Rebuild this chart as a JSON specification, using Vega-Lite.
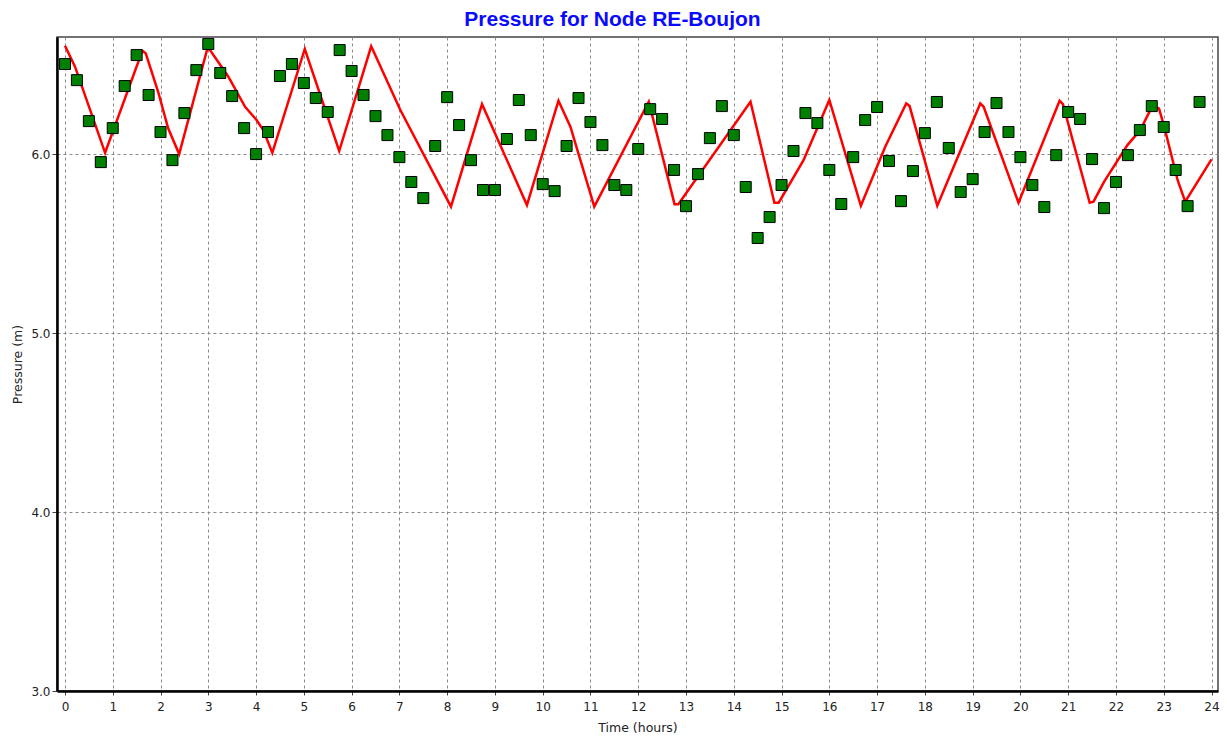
{
  "$schema": "https://vega.github.io/schema/vega-lite/v6.json",
  "autosize": {"type": "none"},
  "padding": {"left": 57, "top": 37, "right": 9, "bottom": 49},
  "width": 1161,
  "height": 654,
  "background": "white",
  "config": {
    "view": {"stroke": "#444444", "strokeWidth": 1.5},
    "axis": {
      "labelFont": "DejaVu Sans",
      "labelFontSize": 12,
      "labelColor": "#222222",
      "titleFont": "DejaVu Sans",
      "titleFontSize": 12.5,
      "titleFontWeight": "normal",
      "titleColor": "#222222",
      "grid": true,
      "gridColor": "#8a8a8a",
      "gridDash": [3, 3],
      "gridWidth": 1,
      "domainColor": "#000000",
      "domainWidth": 2.5,
      "tickColor": "#444444",
      "tickWidth": 1
    }
  },
  "title": {
    "text": "Pressure for Node RE-Boujon",
    "font": "Liberation Sans",
    "fontSize": 21,
    "fontWeight": "bold",
    "color": "#0a0aff",
    "anchor": "middle",
    "frame": "group",
    "dx": -25,
    "baseline": "alphabetic",
    "offset": -10
  },
  "datasets": {
    "sim": [
      {"h": 0, "p": 6.605}, {"h": 0.21, "p": 6.488}, {"h": 0.84, "p": 6.007},
      {"h": 1.62, "p": 6.577}, {"h": 1.69, "p": 6.563}, {"h": 1.95, "p": 6.348},
      {"h": 2.16, "p": 6.144}, {"h": 2.39, "p": 6.0}, {"h": 2.99, "p": 6.599},
      {"h": 3.42, "p": 6.432}, {"h": 3.77, "p": 6.264}, {"h": 4.01, "p": 6.19},
      {"h": 4.15, "p": 6.134}, {"h": 4.34, "p": 6.007}, {"h": 5.02, "p": 6.587},
      {"h": 5.74, "p": 6.017}, {"h": 6.41, "p": 6.602}, {"h": 7.02, "p": 6.246},
      {"h": 8.08, "p": 5.706}, {"h": 8.73, "p": 6.279}, {"h": 9.67, "p": 5.715},
      {"h": 10.33, "p": 6.298}, {"h": 10.58, "p": 6.153}, {"h": 11.08, "p": 5.706},
      {"h": 12.22, "p": 6.292}, {"h": 12.76, "p": 5.72}, {"h": 12.84, "p": 5.72},
      {"h": 14.35, "p": 6.292}, {"h": 14.85, "p": 5.728}, {"h": 14.94, "p": 5.728},
      {"h": 15.46, "p": 5.966}, {"h": 16.0, "p": 6.302}, {"h": 16.66, "p": 5.711},
      {"h": 17.17, "p": 6.041}, {"h": 17.61, "p": 6.283}, {"h": 17.68, "p": 6.268},
      {"h": 18.26, "p": 5.711}, {"h": 19.16, "p": 6.283}, {"h": 19.23, "p": 6.264},
      {"h": 19.96, "p": 5.728}, {"h": 20.82, "p": 6.298}, {"h": 20.89, "p": 6.279},
      {"h": 21.45, "p": 5.728}, {"h": 21.53, "p": 5.734}, {"h": 21.75, "p": 5.845},
      {"h": 22.24, "p": 6.05}, {"h": 22.51, "p": 6.134}, {"h": 22.76, "p": 6.268},
      {"h": 22.9, "p": 6.255}, {"h": 23.01, "p": 6.153}, {"h": 23.29, "p": 5.855},
      {"h": 23.45, "p": 5.734}, {"h": 24.0, "p": 5.97}
    ],
    "obs": [
      {"h": 0, "p": 6.503}, {"h": 0.25, "p": 6.413}, {"h": 0.5, "p": 6.184}, {"h": 0.75, "p": 5.955},
      {"h": 1, "p": 6.145}, {"h": 1.25, "p": 6.38}, {"h": 1.5, "p": 6.553}, {"h": 1.75, "p": 6.33},
      {"h": 2, "p": 6.123}, {"h": 2.25, "p": 5.966}, {"h": 2.5, "p": 6.229}, {"h": 2.75, "p": 6.469},
      {"h": 3, "p": 6.615}, {"h": 3.25, "p": 6.453}, {"h": 3.5, "p": 6.324}, {"h": 3.75, "p": 6.145},
      {"h": 4, "p": 6.0}, {"h": 4.25, "p": 6.123}, {"h": 4.5, "p": 6.436}, {"h": 4.75, "p": 6.503},
      {"h": 5, "p": 6.397}, {"h": 5.25, "p": 6.313}, {"h": 5.5, "p": 6.235}, {"h": 5.75, "p": 6.581},
      {"h": 6, "p": 6.464}, {"h": 6.25, "p": 6.33}, {"h": 6.5, "p": 6.212}, {"h": 6.75, "p": 6.106},
      {"h": 7, "p": 5.983}, {"h": 7.25, "p": 5.844}, {"h": 7.5, "p": 5.754}, {"h": 7.75, "p": 6.045},
      {"h": 8, "p": 6.318}, {"h": 8.25, "p": 6.162}, {"h": 8.5, "p": 5.966}, {"h": 8.75, "p": 5.799},
      {"h": 9, "p": 5.799}, {"h": 9.25, "p": 6.084}, {"h": 9.5, "p": 6.302}, {"h": 9.75, "p": 6.106},
      {"h": 10, "p": 5.832}, {"h": 10.25, "p": 5.793}, {"h": 10.5, "p": 6.045}, {"h": 10.75, "p": 6.313},
      {"h": 11, "p": 6.179}, {"h": 11.25, "p": 6.05}, {"h": 11.5, "p": 5.827}, {"h": 11.75, "p": 5.799},
      {"h": 12, "p": 6.028}, {"h": 12.25, "p": 6.251}, {"h": 12.5, "p": 6.196}, {"h": 12.75, "p": 5.911},
      {"h": 13, "p": 5.709}, {"h": 13.25, "p": 5.888}, {"h": 13.5, "p": 6.089}, {"h": 13.75, "p": 6.268},
      {"h": 14, "p": 6.106}, {"h": 14.25, "p": 5.816}, {"h": 14.5, "p": 5.531}, {"h": 14.75, "p": 5.648},
      {"h": 15, "p": 5.827}, {"h": 15.25, "p": 6.017}, {"h": 15.5, "p": 6.229}, {"h": 15.75, "p": 6.173},
      {"h": 16, "p": 5.911}, {"h": 16.25, "p": 5.721}, {"h": 16.5, "p": 5.983}, {"h": 16.75, "p": 6.19},
      {"h": 17, "p": 6.263}, {"h": 17.25, "p": 5.961}, {"h": 17.5, "p": 5.737}, {"h": 17.75, "p": 5.905},
      {"h": 18, "p": 6.117}, {"h": 18.25, "p": 6.291}, {"h": 18.5, "p": 6.034}, {"h": 18.75, "p": 5.788},
      {"h": 19, "p": 5.86}, {"h": 19.25, "p": 6.123}, {"h": 19.5, "p": 6.285}, {"h": 19.75, "p": 6.123},
      {"h": 20, "p": 5.983}, {"h": 20.25, "p": 5.827}, {"h": 20.5, "p": 5.704}, {"h": 20.75, "p": 5.994},
      {"h": 21, "p": 6.235}, {"h": 21.25, "p": 6.196}, {"h": 21.5, "p": 5.972}, {"h": 21.75, "p": 5.698},
      {"h": 22, "p": 5.844}, {"h": 22.25, "p": 5.994}, {"h": 22.5, "p": 6.134}, {"h": 22.75, "p": 6.268},
      {"h": 23, "p": 6.151}, {"h": 23.25, "p": 5.911}, {"h": 23.5, "p": 5.709}, {"h": 23.75, "p": 6.291}
    ]
  },
  "layer": [
    {
      "data": {"name": "sim"},
      "mark": {"type": "line", "color": "#ff0000", "strokeWidth": 2.5, "clip": true},
      "encoding": {
        "x": {
          "field": "h", "type": "quantitative",
          "scale": {"domain": [-0.167, 24.136], "nice": false, "zero": false},
          "axis": {
            "values": [0,1,2,3,4,5,6,7,8,9,10,11,12,13,14,15,16,17,18,19,20,21,22,23,24],
            "format": "d",
            "title": "Time (hours)",
            "tickSize": 4,
            "labelPadding": 6,
            "titlePadding": 9,
            "labelFlush": false,
            "labelOverlap": false
          }
        },
        "y": {
          "field": "p", "type": "quantitative",
          "scale": {"domain": [3, 6.654], "nice": false, "zero": false},
          "axis": {
            "values": [3, 4, 5, 6],
            "format": ".1f",
            "title": "Pressure (m)",
            "tickSize": 5,
            "labelPadding": 2,
            "titlePadding": 6,
            "labelFlush": false
          }
        }
      }
    },
    {
      "data": {"name": "obs"},
      "mark": {"type": "point", "shape": "square", "filled": true, "fill": "#008000", "stroke": "#000000", "strokeWidth": 1, "size": 121, "opacity": 1, "clip": true},
      "encoding": {
        "x": {"field": "h", "type": "quantitative"},
        "y": {"field": "p", "type": "quantitative"}
      }
    }
  ]
}
